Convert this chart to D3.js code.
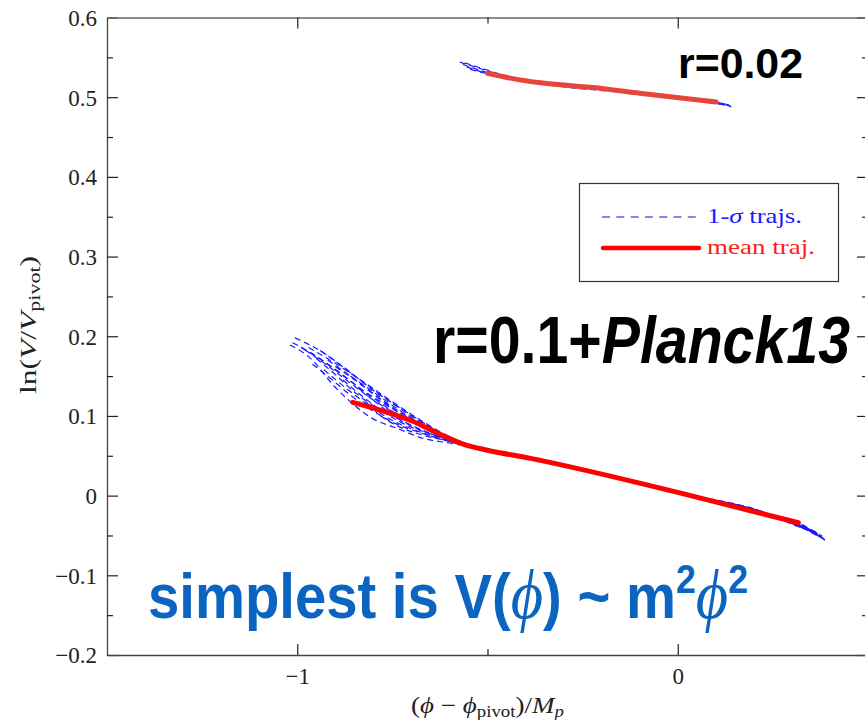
<!DOCTYPE html>
<html lang="en">
<head>
  <meta charset="UTF-8">
  <title>Inflaton potential trajectories</title>
  <script src="https://d3js.org/d3.v7.min.js"></script>
  <style>
    body { margin: 0; background: #fff; }
    svg { display: block; }
  </style>
</head>
<body>
  <div id="chart"></div>

  <script>
    // axis ticks
    const xMajorTicks = [-1, 0];
    const xTickLabels = ['\u22121', '0'];
    const xMinorTicks = [-0.5];
    const yMajorTicks = [-0.2, -0.1, 0, 0.1, 0.2, 0.3, 0.4, 0.5, 0.6];
    const yTickLabels = ['\u22120.2', '\u22120.1', '0', '0.1', '0.2', '0.3', '0.4', '0.5', '0.6'];
    const yMinorTicks = [-0.15, -0.05, 0.05, 0.15, 0.25, 0.35, 0.45, 0.55];

    // r=0.02 case: 1-sigma trajectories and mean (x, y)
    const upperTrajs = [
      [[-0.573, 0.544], [-0.52, 0.536], [-0.45, 0.526], [-0.36, 0.518], [-0.1, 0.505], [0.10, 0.494], [0.149, 0.487]],
      [[-0.565, 0.541], [-0.50, 0.531], [-0.43, 0.523], [-0.36, 0.517], [-0.1, 0.504], [0.10, 0.493], [0.14, 0.488]],
      [[-0.555, 0.538], [-0.49, 0.528], [-0.42, 0.521], [-0.36, 0.517], [-0.1, 0.505], [0.10, 0.494], [0.145, 0.489]],
      [[-0.545, 0.535], [-0.48, 0.527], [-0.40, 0.520], [-0.1, 0.505], [0.13, 0.490]],
      [[-0.56, 0.543], [-0.50, 0.534], [-0.44, 0.525], [-0.36, 0.519], [-0.1, 0.506], [0.12, 0.492]]
    ];
    const upperMean = [[-0.50, 0.530], [-0.43, 0.523], [-0.36, 0.518], [-0.20, 0.511], [-0.1, 0.505], [0.101, 0.494]];

    // r=0.1 + Planck13 case: trajectory heads (the fan), shared middle, and ends
    const lowerHeads = [
      [[-1.006, 0.198], [-0.93, 0.179], [-0.86, 0.154], [-0.80, 0.132], [-0.72, 0.107], [-0.64, 0.083], [-0.60, 0.071], [-0.55, 0.063]],
      [[-1.019, 0.189], [-0.96, 0.170], [-0.91, 0.141], [-0.87, 0.122], [-0.81, 0.099], [-0.73, 0.083], [-0.67, 0.072], [-0.60, 0.066], [-0.55, 0.062]],
      [[-1.012, 0.192], [-0.95, 0.175], [-0.89, 0.155], [-0.83, 0.133], [-0.76, 0.112], [-0.69, 0.092], [-0.62, 0.074], [-0.55, 0.063]],
      [[-0.98, 0.183], [-0.92, 0.163], [-0.86, 0.141], [-0.80, 0.120], [-0.73, 0.100], [-0.66, 0.083], [-0.60, 0.070], [-0.55, 0.062]],
      [[-0.95, 0.172], [-0.90, 0.152], [-0.85, 0.130], [-0.79, 0.110], [-0.72, 0.093], [-0.65, 0.078], [-0.59, 0.068], [-0.55, 0.062]],
      [[-0.93, 0.158], [-0.88, 0.138], [-0.82, 0.116], [-0.76, 0.097], [-0.69, 0.082], [-0.62, 0.071], [-0.55, 0.062]],
      [[-0.97, 0.186], [-0.90, 0.166], [-0.83, 0.144], [-0.76, 0.121], [-0.69, 0.099], [-0.62, 0.079], [-0.55, 0.064]],
      [[-0.90, 0.162], [-0.84, 0.142], [-0.78, 0.120], [-0.72, 0.100], [-0.66, 0.085], [-0.60, 0.072], [-0.55, 0.063]],
      [[-0.88, 0.145], [-0.83, 0.125], [-0.77, 0.104], [-0.71, 0.088], [-0.64, 0.076], [-0.58, 0.067], [-0.55, 0.062]],
      [[-0.86, 0.150], [-0.80, 0.130], [-0.74, 0.110], [-0.68, 0.092], [-0.62, 0.077], [-0.55, 0.063]],
      [[-0.99, 0.186], [-0.93, 0.168], [-0.87, 0.147], [-0.81, 0.126], [-0.75, 0.106], [-0.68, 0.088], [-0.61, 0.072], [-0.55, 0.062]],
      [[-0.92, 0.170], [-0.86, 0.150], [-0.80, 0.128], [-0.74, 0.108], [-0.67, 0.089], [-0.60, 0.073], [-0.55, 0.063]],
      [[-0.96, 0.165], [-0.91, 0.146], [-0.86, 0.126], [-0.80, 0.106], [-0.74, 0.090], [-0.67, 0.078], [-0.60, 0.068], [-0.55, 0.062]],
      [[-0.84, 0.135], [-0.79, 0.116], [-0.74, 0.098], [-0.68, 0.083], [-0.62, 0.072], [-0.55, 0.062]],
      [[-0.82, 0.118], [-0.78, 0.100], [-0.73, 0.086], [-0.67, 0.076], [-0.60, 0.068], [-0.55, 0.062]],
      [[-0.94, 0.182], [-0.88, 0.162], [-0.82, 0.140], [-0.75, 0.116], [-0.68, 0.094], [-0.61, 0.076], [-0.55, 0.063]]
    ];
    const lowerMiddle = [[-0.46, 0.054], [-0.39, 0.047], [0.0, 0.004], [0.25, -0.025]];
    const lowerEnds = [
      [[0.31, -0.034], [0.387, -0.056]],
      [[0.31, -0.036], [0.38, -0.053]],
      [[0.30, -0.032], [0.375, -0.050]],
      [[0.31, -0.035], [0.385, -0.055]],
      [[0.30, -0.033], [0.37, -0.048]],
      [[0.31, -0.037], [0.36, -0.047]],
      [[0.30, -0.031], [0.38, -0.051]],
      [[0.31, -0.036], [0.372, -0.052]],
      [[0.30, -0.034], [0.365, -0.046]],
      [[0.31, -0.035], [0.383, -0.054]],
      [[0.30, -0.033], [0.378, -0.052]],
      [[0.31, -0.034], [0.368, -0.049]],
      [[0.30, -0.035], [0.362, -0.047]],
      [[0.31, -0.033], [0.386, -0.055]],
      [[0.30, -0.036], [0.355, -0.045]],
      [[0.31, -0.034], [0.374, -0.051]]
    ];
    const lowerMean = [[-0.854, 0.117], [-0.78, 0.107], [-0.70, 0.094], [-0.62, 0.076], [-0.56, 0.064],
      [-0.50, 0.057], [-0.39, 0.047], [0, 0.004], [0.317, -0.034]];

    const width = 865;
    const height = 720;
    const margin = { top: 17.5, right: -3, bottom: 65, left: 107 };
    const serif = '"Liberation Serif", "DejaVu Serif", serif';
    const sans = '"Liberation Sans", Arial, sans-serif';

    const svg = d3.select('#chart').append('svg')
      .attr('width', width)
      .attr('height', height);

    const x = d3.scaleLinear()
      .domain([-1.5, 0.5])
      .range([margin.left, width - margin.right]);

    const y = d3.scaleLinear()
      .domain([-0.2, 0.6])
      .range([height - margin.bottom, margin.top]);

    const line = d3.line()
      .x(d => x(d[0]))
      .y(d => y(d[1]))
      .curve(d3.curveMonotoneX);

    // axes, ticks pointing inward
    function styleAxis(g) {
      g.select('.domain').attr('stroke', '#444').attr('stroke-width', 1.3);
      g.selectAll('.tick line').attr('stroke', '#222').attr('stroke-width', 1.2);
      g.selectAll('.tick text')
        .attr('font-family', null).attr('font-size', null)
        .style('font-family', serif).style('font-size', '23px').attr('fill', '#222');
    }

    svg.append('g')
      .attr('transform', `translate(${margin.left},0)`)
      .call(d3.axisLeft(y).tickValues(yMajorTicks).tickSize(-11).tickSizeOuter(0).tickPadding(10)
        .tickFormat((d, i) => yTickLabels[i]))
      .call(styleAxis)
      .selectAll('.tick text').attr('dy', '0.34em');

    svg.append('g')
      .attr('transform', `translate(${margin.left},0)`)
      .call(d3.axisLeft(y).tickValues(yMinorTicks).tickSize(-6).tickFormat(''))
      .call(g => g.select('.domain').remove())
      .call(styleAxis);

    svg.append('g')
      .attr('transform', `translate(${x.range()[1]},0)`)
      .call(d3.axisRight(y).tickValues(yMajorTicks).tickSize(-11).tickSizeOuter(0).tickFormat(''))
      .call(styleAxis);

    svg.append('g')
      .attr('transform', `translate(${x.range()[1]},0)`)
      .call(d3.axisRight(y).tickValues(yMinorTicks).tickSize(-6).tickFormat(''))
      .call(g => g.select('.domain').remove())
      .call(styleAxis);

    svg.append('g')
      .attr('transform', `translate(0,${y.range()[0]})`)
      .call(d3.axisBottom(x).tickValues(xMajorTicks).tickSize(-11).tickSizeOuter(0).tickPadding(13)
        .tickFormat((d, i) => xTickLabels[i]))
      .call(styleAxis);

    svg.append('g')
      .attr('transform', `translate(0,${y.range()[0]})`)
      .call(d3.axisBottom(x).tickValues(xMinorTicks).tickSize(-6).tickFormat(''))
      .call(g => g.select('.domain').remove())
      .call(styleAxis);

    svg.append('g')
      .attr('transform', `translate(0,${margin.top})`)
      .call(d3.axisTop(x).tickValues(xMajorTicks).tickSize(-11).tickSizeOuter(0).tickFormat(''))
      .call(styleAxis)
      .call(g => g.select('.domain').attr('stroke', '#666'));

    svg.append('g')
      .attr('transform', `translate(0,${margin.top})`)
      .call(d3.axisTop(x).tickValues(xMinorTicks).tickSize(-6).tickFormat(''))
      .call(g => g.select('.domain').remove())
      .call(styleAxis);

    // 1-sigma trajectories
    const lowerTrajs = lowerHeads.map((h, i) => h.concat(lowerMiddle, lowerEnds[i]));

    svg.append('g')
      .selectAll('path')
      .data(upperTrajs.concat(lowerTrajs))
      .enter()
      .append('path')
      .attr('d', line)
      .attr('fill', 'none')
      .attr('stroke', '#1a1aff')
      .attr('stroke-width', 1.2)
      .attr('stroke-dasharray', '6,4');

    // mean trajectories
    svg.append('path')
      .attr('d', line(upperMean))
      .attr('fill', 'none')
      .attr('stroke', '#e8453a')
      .attr('stroke-width', 5)
      .attr('stroke-linecap', 'round');

    svg.append('path')
      .attr('d', line(lowerMean))
      .attr('fill', 'none')
      .attr('stroke', '#ff0000')
      .attr('stroke-width', 5)
      .attr('stroke-linecap', 'round');

    // legend
    const legend = svg.append('g');
    legend.append('rect')
      .attr('x', 579.5).attr('y', 183.5)
      .attr('width', 259).attr('height', 98)
      .attr('fill', '#fff')
      .attr('stroke', '#333')
      .attr('stroke-width', 1.2);
    legend.append('line')
      .attr('x1', 602).attr('x2', 701).attr('y1', 217).attr('y2', 217)
      .attr('stroke', '#5a5aff').attr('stroke-width', 1.4)
      .attr('stroke-dasharray', '8,6.3');
    legend.append('line')
      .attr('x1', 603).attr('x2', 699).attr('y1', 248).attr('y2', 248)
      .attr('stroke', '#ff0000').attr('stroke-width', 4.5)
      .attr('stroke-linecap', 'round');
    legend.append('text')
      .attr('x', 707).attr('y', 223)
      .attr('textLength', 95).attr('lengthAdjust', 'spacingAndGlyphs')
      .style('font-family', serif)
      .style('font-size', '22px')
      .attr('fill', '#1a1aff')
      .html('1-<tspan font-style="italic">\u03C3</tspan> trajs.');
    legend.append('text')
      .attr('x', 707).attr('y', 254)
      .attr('textLength', 108).attr('lengthAdjust', 'spacingAndGlyphs')
      .style('font-family', serif)
      .style('font-size', '22px')
      .attr('fill', '#ff1a1a')
      .text('mean traj.');

    // annotations
    svg.append('text')
      .attr('x', 678).attr('y', 78)
      .attr('textLength', 125).attr('lengthAdjust', 'spacingAndGlyphs')
      .style('font-family', sans)
      .style('font-weight', 'bold')
      .style('font-size', '42px')
      .text('r=0.02');

    svg.append('text')
      .attr('x', 433).attr('y', 363)
      .attr('textLength', 417).attr('lengthAdjust', 'spacingAndGlyphs')
      .style('font-family', sans)
      .style('font-weight', 'bold')
      .style('font-size', '67px')
      .html('r=0.1+<tspan font-style="italic">Planck13</tspan>');

    svg.append('text')
      .attr('x', 148).attr('y', 618)
      .attr('textLength', 600).attr('lengthAdjust', 'spacingAndGlyphs')
      .style('font-family', sans)
      .style('font-weight', 'bold')
      .style('font-size', '63px')
      .attr('fill', '#0a64c0')
      .html('simplest is V(<tspan font-family="Liberation Serif, DejaVu Serif" font-style="italic" font-weight="normal" font-size="70px">\u03D5</tspan>) ~ m<tspan font-size="40px" dy="-25">2</tspan><tspan dy="25" font-family="Liberation Serif, DejaVu Serif" font-style="italic" font-weight="normal" font-size="70px">\u03D5</tspan><tspan font-size="40px" dy="-25">2</tspan>');

    // axis labels
    svg.append('text')
      .attr('x', (x.range()[0] + x.range()[1]) / 2).attr('y', 713)
      .attr('text-anchor', 'middle')
      .attr('textLength', 153).attr('lengthAdjust', 'spacingAndGlyphs')
      .style('font-family', serif)
      .style('font-size', '23px')
      .attr('fill', '#222')
      .html('(<tspan font-style="italic">\u03D5</tspan> \u2212 <tspan font-style="italic">\u03D5</tspan><tspan font-size="16px" dy="4">pivot</tspan><tspan dy="-4">)/</tspan><tspan font-style="italic">M</tspan><tspan font-size="16px" dy="4" font-style="italic">p</tspan>');

    svg.append('text')
      .attr('transform', 'translate(36,325) rotate(-90)')
      .attr('text-anchor', 'middle')
      .attr('textLength', 138).attr('lengthAdjust', 'spacingAndGlyphs')
      .style('font-family', serif)
      .style('font-size', '23px')
      .attr('fill', '#222')
      .html('ln(<tspan font-style="italic">V</tspan>/<tspan font-style="italic">V</tspan><tspan font-size="16px" dy="4">pivot</tspan><tspan dy="-4">)</tspan>');
  </script>
</body>
</html>
